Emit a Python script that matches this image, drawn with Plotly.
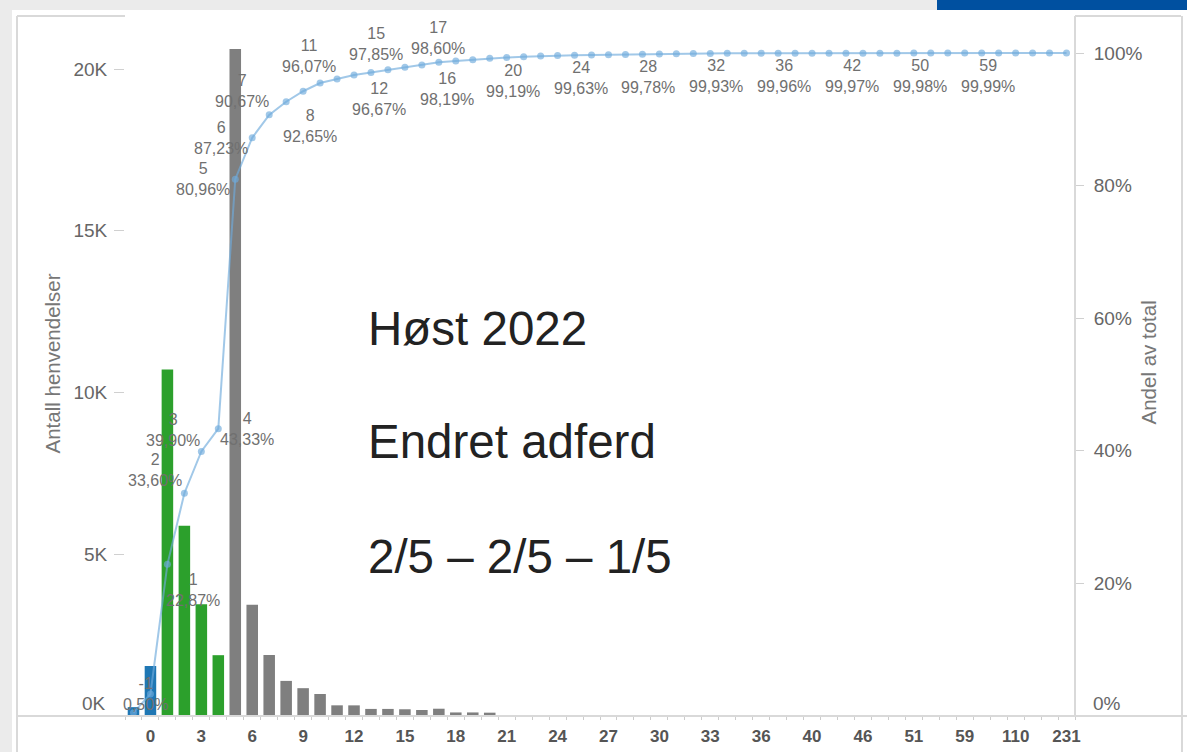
import plotly.graph_objects as go

# ---- data ----
categories = ["-1", "0", "1", "2", "3", "4", "5", "6", "7", "8", "9", "10", "11", "12",
              "13", "14", "15", "16", "17", "18", "19", "20", "21", "22", "23", "24",
              "25", "26", "27", "28", "29", "30", "31", "32", "33", "34", "35", "36",
              "37", "38", "40", "42", "44", "46", "48", "50", "51", "53", "55", "59",
              "63", "84", "110", "125", "160", "231"]

counts = [274, 1545, 10713, 5880, 3452, 1880, 20620, 3436, 1885, 1085, 860, 680, 330, 329,
          219, 219, 208, 186, 225, 110, 110, 103, 25, 22, 18, 15,
          10, 9, 8, 7, 8, 7, 6, 6, 2, 2, 2, 2,
          1, 1, 1, 1, 1, 1, 1, 1, 1, 1, 1, 1,
          1, 1, 1, 1, 1, 1]

cum_pct = [0.50, 3.32, 22.87, 33.60, 39.90, 43.33, 80.96, 87.23, 90.67, 92.65, 94.23, 95.47,
           96.07, 96.67, 97.07, 97.47, 97.85, 98.19, 98.60, 98.80, 99.00, 99.19, 99.31,
           99.42, 99.53, 99.63, 99.67, 99.71, 99.75, 99.78, 99.82, 99.86, 99.90, 99.93,
           99.94, 99.95, 99.955, 99.96, 99.962, 99.965, 99.967, 99.97, 99.972, 99.975,
           99.978, 99.98, 99.982, 99.985, 99.988, 99.99, 99.992, 99.994, 99.996, 99.997,
           99.998, 100.0]

blue_cats = ["-1", "0"]
green_cats = ["1", "2", "3", "4"]

tick_labels = ["0", "3", "6", "9", "12", "15", "18", "21", "24", "27", "30", "33", "36",
               "40", "46", "51", "59", "110", "231"]

labelled_cats = ["-1", "1", "2", "3", "4", "5", "6", "7", "8", "11", "12", "15", "16", "17",
                 "20", "24", "28", "32", "36", "42", "50", "59"]

left_ticks = [5000, 10000, 15000, 20000]
left_tick_text = ["5K", "10K", "15K", "20K"]
right_ticks = [20, 40, 60, 80, 100]
right_tick_text = ["20%", "40%", "60%", "80%", "100%"]

overlay_lines = ["Høst 2022", "Endret adferd", "2/5 – 2/5 – 1/5"]

# ---- styles ----
BLUE = "#1F77B4"
GREEN = "#2CA02C"
GREY = "#7F7F7F"
LINE = "rgba(110,170,220,0.65)"
FONT = "Liberation Sans, Arial, sans-serif"

label_shift = {
    "-1": (12, 19), "1": (26, -26), "2": (-29, 23), "3": (-28, 21), "4": (29, 0),
    "5": (-32, 0), "6": (-31, 0), "7": (-27, 24), "8": (24, -24), "11": (-28, 23),
    "12": (25, -24), "15": (-29, 23), "16": (25, -24), "17": (-1, 24),
}
default_shift = (23, -23)

bar_colors = [BLUE if c in blue_cats else GREEN if c in green_cats else GREY
              for c in categories]

W, H = 1187, 752
L, R, T, B = 125, 1187 - 1075, 16, 752 - 716
pw, ph = W - L - R, H - T - B


def px(xp):
    return (xp - L) / pw


def py(yp):
    return (H - B - yp) / ph


fig = go.Figure()
fig.add_trace(go.Bar(x=categories, y=counts, marker=dict(color=bar_colors, line=dict(width=0)),
                     name="Antall henvendelser", showlegend=False))
fig.add_trace(go.Scatter(x=categories, y=cum_pct, yaxis="y2", mode="lines+markers",
                         line=dict(color=LINE, width=2),
                         marker=dict(color=LINE, size=7),
                         name="Andel av total", showlegend=False))

annotations = []
for c in labelled_cats:
    i = categories.index(c)
    v = cum_pct[i]
    dx, dy = label_shift.get(c, default_shift)
    annotations.append(dict(
        x=i, y=v, xref="x", yref="y2", xshift=dx, yshift=dy,
        text=f"{c}<br>{v:.2f}%".replace(".", ","), showarrow=False,
        font=dict(family=FONT, size=16, color="#707070"),
        xanchor="center", yanchor="middle"))

# zero labels (shifted up like the original)
annotations.append(dict(x=0, y=0, xref="paper", yref="y", xanchor="right", yanchor="middle",
                        xshift=-17, yshift=13, text="0K", showarrow=False,
                        font=dict(family=FONT, size=19, color="#666666")))
annotations.append(dict(x=1, y=0, xref="paper", yref="y", xanchor="left", yanchor="middle",
                        xshift=16, yshift=13, text="0%", showarrow=False,
                        font=dict(family=FONT, size=19, color="#666666")))

# axis titles
annotations.append(dict(x=px(38), y=py(364), xref="paper", yref="paper", textangle=-90,
                        text="Antall henvendelser", showarrow=False,
                        font=dict(family=FONT, size=20.5, color="#777777")))
annotations.append(dict(x=px(1162), y=py(363), xref="paper", yref="paper", textangle=-90,
                        text="Andel av total", showarrow=False,
                        font=dict(family=FONT, size=20.5, color="#777777")))

# overlay text
for txt, yp in zip(overlay_lines, [328, 441, 556]):
    annotations.append(dict(x=px(366), y=py(yp), xref="paper", yref="paper",
                            xanchor="left", yanchor="middle", text=txt, showarrow=False,
                            font=dict(family=FONT, size=47.5, color="#222222")))

LC = "#D9D9D9"
shapes = [
    dict(type="rect", xref="paper", yref="paper", x0=px(0), x1=px(937), y0=py(10), y1=py(0),
         fillcolor="#EBEBEB", line=dict(width=0), layer="below"),
    dict(type="rect", xref="paper", yref="paper", x0=px(937), x1=px(1187), y0=py(10), y1=py(0),
         fillcolor="#0050A0", line=dict(width=0), layer="below"),
    dict(type="rect", xref="paper", yref="paper", x0=px(0), x1=px(12), y0=py(752), y1=py(0),
         fillcolor="#EBEBEB", line=dict(width=0), layer="below"),
    dict(type="line", xref="paper", yref="paper", x0=px(17), x1=px(17), y0=py(752), y1=py(16),
         line=dict(color=LC, width=2)),
    dict(type="line", xref="paper", yref="paper", x0=px(17), x1=px(125), y0=py(16), y1=py(16),
         line=dict(color=LC, width=2)),
    dict(type="line", xref="paper", yref="paper", x0=px(1075), x1=px(1075), y0=py(716), y1=py(16),
         line=dict(color=LC, width=2)),
    dict(type="line", xref="paper", yref="paper", x0=px(1075), x1=px(1181), y0=py(16), y1=py(16),
         line=dict(color=LC, width=2)),
    dict(type="line", xref="paper", yref="paper", x0=px(1182), x1=px(1182), y0=py(752), y1=py(16),
         line=dict(color=LC, width=2)),
    dict(type="line", xref="paper", yref="paper", x0=px(17), x1=px(1187), y0=py(716), y1=py(716),
         line=dict(color=LC, width=2)),
]

fig.update_layout(
    width=W, height=H,
    margin=dict(l=L, r=R, t=T, b=B, autoexpand=False),
    paper_bgcolor="white", plot_bgcolor="white",
    bargap=0.32,
    showlegend=False,
    xaxis=dict(type="category", categoryorder="array", categoryarray=categories,
               tickmode="array", tickvals=categories,
               ticktext=[c if c in tick_labels else "" for c in categories],
               tickson="boundaries", ticks="outside", ticklen=3, tickwidth=1,
               tickangle=0, ticklabelstandoff=8, automargin=False,
               tickcolor="#CCCCCC", showgrid=False, zeroline=False, showline=False,
               range=[-0.5, len(categories) - 0.5],
               tickfont=dict(family=FONT, size=17, color="#555555", weight="bold")),
    yaxis=dict(range=[0, 21640], tickmode="array", tickvals=left_ticks,
               ticktext=left_tick_text, ticks="outside", ticklen=10, tickcolor="#D0D0D0",
               ticklabelstandoff=3, automargin=False,
               showgrid=False, zeroline=False, showline=False,
               tickfont=dict(family=FONT, size=19, color="#666666")),
    yaxis2=dict(range=[0, 105.58], overlaying="y", side="right", tickmode="array",
                tickvals=right_ticks, ticktext=right_tick_text, ticks="outside", ticklen=8,
                tickcolor="#D0D0D0", ticklabelstandoff=6, automargin=False,
                showgrid=False, zeroline=False, showline=False,
                tickfont=dict(family=FONT, size=19, color="#666666")),
    annotations=annotations,
    shapes=shapes,
)

fig.write_html("out.html", config={"displayModeBar": False},
               post_script="document.body.style.margin='0';document.body.style.overflow='hidden';")
